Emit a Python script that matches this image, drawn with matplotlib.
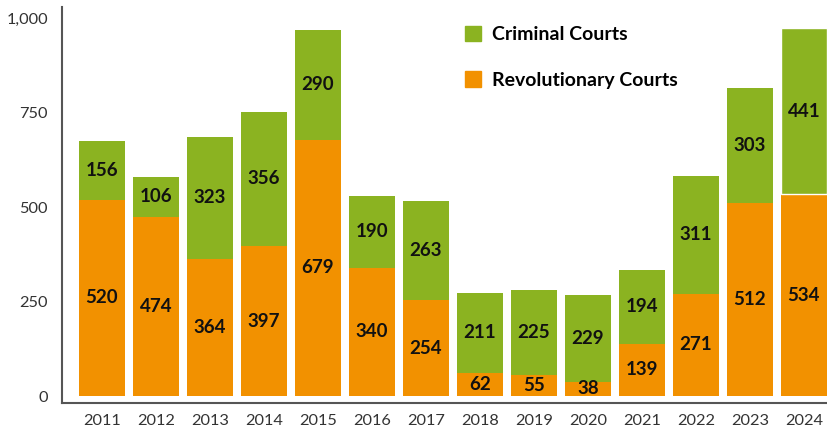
import matplotlib.pyplot as plt
import numpy as np
from matplotlib.patches import Patch

years = ['2011', '2012', '2013', '2014', '2015', '2016', '2017',
         '2018', '2019', '2020', '2021', '2022', '2023', '2024']
revolutionary = [520, 474, 364, 397, 679, 340, 254, 62, 55, 38, 139, 271, 512, 534]
criminal = [156, 106, 323, 356, 290, 190, 263, 211, 225, 229, 194, 311, 303, 441]
yticks = [0, 250, 500, 750, 1000]
ytick_labels = ['0', '250', '500', '750', '1,000']

green = '#8bb321'
orange = '#f29100'

plt.rcParams['font.family'] = ['Lato', 'DejaVu Sans']

fig = plt.figure(figsize=(8.27, 4.29), dpi=100)
ax = fig.add_axes([62 / 827, 26 / 429, 765 / 827, 396 / 429])

x = np.arange(len(years))
rev = np.array(revolutionary)
crim = np.array(criminal)

ax.bar(x, rev, width=0.85, color=orange, linewidth=0)
# 2024 has a thin white seam between the two parts
edges = ['none'] * (len(years) - 1) + ['white']
ax.bar(x, crim, width=0.85, bottom=rev, color=green,
       edgecolor=edges, linewidth=1)

# value labels in the middle of each segment
for i in range(len(years)):
    ax.text(x[i], rev[i] / 2, str(rev[i]), ha='center', va='center',
            fontsize=13.5, fontweight='bold', color='#111111')
    ax.text(x[i], rev[i] + crim[i] / 2, str(crim[i]), ha='center',
            va='center', fontsize=13.5, fontweight='bold', color='#111111')

ax.set_xlim(-0.74, 13.43)
ax.set_ylim(-18.5, 1030)
ax.set_xticks(x)
ax.set_xticklabels(years)
ax.set_yticks(yticks)
ax.set_yticklabels(ytick_labels)
ax.tick_params(axis='both', length=0, labelsize=11.8, colors='#333333')
ax.tick_params(axis='x', pad=8)
ax.tick_params(axis='y', pad=10)

for side in ['top', 'right']:
    ax.spines[side].set_visible(False)
for side in ['left', 'bottom']:
    ax.spines[side].set_color('#555555')
    ax.spines[side].set_linewidth(1.5)

handles = [Patch(color=green, label='Criminal Courts'),
           Patch(color=orange, label='Revolutionary Courts')]
ax.legend(handles=handles, loc='upper left',
          bbox_to_anchor=(455 / 827, 1 - 16 / 429),
          bbox_transform=fig.transFigure, frameon=False,
          handlelength=0.85, handleheight=0.85,
          handletextpad=0.55, labelspacing=1.45, borderpad=0,
          prop={'weight': 'bold', 'size': 14})

fig.savefig('out.png', dpi=100)
